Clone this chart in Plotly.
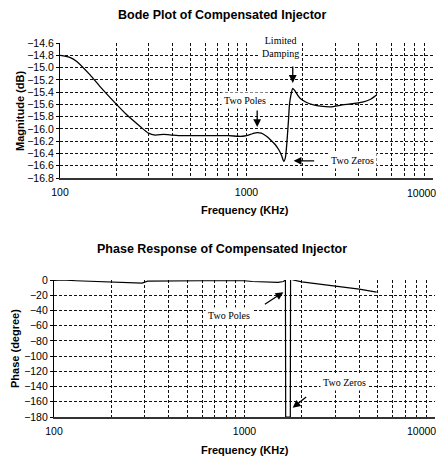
import math
import plotly.graph_objects as go

# ---------------- data ----------------
mag_freq = [100, 112, 123, 145, 164, 198, 228, 269, 298, 324, 360, 400, 450, 500, 600, 700,
            800, 900, 950, 1000, 1050, 1100, 1141, 1200, 1280, 1347, 1420, 1490, 1540,
            1585, 1620, 1653, 1680, 1700, 1730, 1770, 1820, 1880, 1950, 2100, 2290,
            2500, 2815, 3270, 3700, 4240, 4600, 4960]
mag_db = [-14.80, -14.83, -14.90, -15.12, -15.31, -15.58, -15.77, -15.96, -16.07, -16.10, -16.09,
          -16.10, -16.11, -16.11, -16.11, -16.11, -16.11, -16.12, -16.12, -16.11, -16.09,
          -16.07, -16.06, -16.07, -16.12, -16.18, -16.25, -16.34, -16.43, -16.53, -16.45,
          -16.15, -15.85, -15.60, -15.45, -15.34, -15.38, -15.45, -15.51, -15.57, -15.61,
          -15.63, -15.64, -15.61, -15.59, -15.56, -15.52, -15.45]

ph_freq = [100, 110, 130, 160, 200, 250, 290, 310, 400, 600, 900, 1000, 1100, 1300, 1500,
           1600, 1640, 1645, 1740, 1745, 1800, 2000, 2500, 3000, 4000, 4940]
ph_deg = [-0.5, 0, -1, -2, -3, -3.5, -4, -1.5, -1, -1, -1, -1, -2, -2.5, -3,
          -2, 0, -180, -180, 2, 0, -2.5, -5, -8, -12, -16]

x_tickvals = [100, 200, 300, 400, 500, 600, 700, 800, 900,
              1000, 2000, 3000, 4000, 5000, 6000, 7000, 8000, 9000, 10000]
x_ticktext = ["100", "", "", "", "", "", "", "", "",
              "1000", "", "", "", "", "", "", "", "", ""]
x_last_label = "10000"

mag_ticks = [-14.6, -14.8, -15.0, -15.2, -15.4, -15.6, -15.8, -16.0, -16.2, -16.4, -16.6, -16.8]
ph_ticks = [0, -20, -40, -60, -80, -100, -120, -140, -160, -180]

# the page body has an 8px margin; lay out in window pixels and convert
OFF = 8
W, H = 445 - OFF, 459 - OFF

def px_x(p):
    return (p - OFF) / W

def px_y(p):
    return 1 - (p - OFF) / H

fig = go.Figure()
fig.add_trace(go.Scatter(x=mag_freq, y=mag_db, mode="lines", xaxis="x", yaxis="y",
                         line=dict(color="black", width=1.3, shape="spline", smoothing=0.6),
                         showlegend=False))
fig.add_trace(go.Scatter(x=ph_freq, y=ph_deg, mode="lines", xaxis="x2", yaxis="y2",
                         line=dict(color="black", width=1.2), showlegend=False))

grid = dict(showgrid=True, gridcolor="#111", gridwidth=1, griddash="3px,2px")
tickfont = dict(family="Liberation Sans, Arial", size=10.5, color="black")

xcommon = dict(type="log", range=[2, 4], tickvals=x_tickvals, ticktext=x_ticktext,
               tickfont=tickfont, showline=True, linecolor="#333", linewidth=1.5,
               ticks="", zeroline=False, automargin=False, ticklabelstandoff=4, **grid)

fig.update_layout(
    width=W, height=H, margin=dict(l=0, r=0, t=0, b=0),
    paper_bgcolor="white", plot_bgcolor="white",
    xaxis=dict(domain=[px_x(60), px_x(433)], anchor="y", **xcommon),
    yaxis=dict(domain=[px_y(178), px_y(43)], range=[-16.8, -14.6], tickvals=mag_ticks,
               tickformat=".1f", tickfont=tickfont, showline=True, linecolor="black",
               linewidth=1.2, ticks="outside", ticklen=3, tickcolor="black",
               zeroline=False, automargin=False, anchor="x", **grid),
    xaxis2=dict(domain=[px_x(54), px_x(435)], anchor="y2", **xcommon),
    yaxis2=dict(domain=[px_y(417), px_y(280)], range=[-180, 0], tickvals=ph_ticks,
                tickfont=tickfont, showline=True, linecolor="black",
                linewidth=1.2, ticks="outside", ticklen=3, tickcolor="black",
                zeroline=False, automargin=False, anchor="x2", **grid),
)

# solid vertical line at 1000 on the phase plot
fig.add_shape(type="line", xref="x2", yref="y2", x0=3, x1=3, y0=-180, y1=0,
              line=dict(color="black", width=1.2))

bold = dict(family="Liberation Sans, Arial", size=12.5, color="black")
bold_ax = dict(family="Liberation Sans, Arial", size=11, color="black")
serif = dict(family="Liberation Serif, Times New Roman", size=10, color="black")

def ann(text, x, y, font, angle=0, xanchor="center"):
    fig.add_annotation(text=text, x=px_x(x), y=px_y(y), xref="paper", yref="paper",
                       showarrow=False, font=font, textangle=angle, xanchor=xanchor,
                       yanchor="middle")

ann("<b>Bode Plot of Compensated Injector</b>", 222, 15, bold)
ann("<b>Frequency (KHz)</b>", 245, 210, bold_ax)
ann("<b>Magnitude (dB)</b>", 20, 111, bold_ax, angle=-90)
ann("<b>Phase Response of Compensated Injector</b>", 222, 249, bold)
ann("<b>Frequency (KHz)</b>", 245, 450, bold_ax)
ann("<b>Phase (degree)</b>", 15, 349, bold_ax, angle=-90)
# last x tick label, kept whole at the right edge
ann(x_last_label, 438, 193, tickfont, xanchor="right")
ann(x_last_label, 438, 431, tickfont, xanchor="right")

L = math.log10

def arrow_note(xr, yr, hx, hy, ax, ay):
    fig.add_annotation(x=L(hx), y=hy, xref=xr, yref=yr, ax=ax, ay=ay, text="",
                       showarrow=True, arrowhead=2, arrowsize=1.2, arrowwidth=1.3,
                       arrowcolor="black")

def text_note(xr, yr, text, x, y, xanchor="center"):
    fig.add_annotation(x=L(x), y=y, xref=xr, yref=yr, text=text, showarrow=False,
                       font=serif, bgcolor="white", borderpad=2, xanchor=xanchor)

# top chart notes
text_note("x", "y", "Limited<br>Damping", 1530, -14.66)
arrow_note("x", "y", 1770, -15.25, 0, -18)
text_note("x", "y", "Two Poles", 980, -15.53)
arrow_note("x", "y", 1141, -15.97, 0, -18)
text_note("x", "y", "Two Zeros", 3680, -16.52)
arrow_note("x", "y", 1790, -16.52, 22, 0)

# bottom chart notes
text_note("x2", "y2", "Two Poles", 830, -46)
arrow_note("x2", "y2", 1600, -16, -20, 13)
text_note("x2", "y2", "Two Zeros", 3350, -135)
arrow_note("x2", "y2", 1790, -168, 15, -12)

fig.write_html("out.html")
